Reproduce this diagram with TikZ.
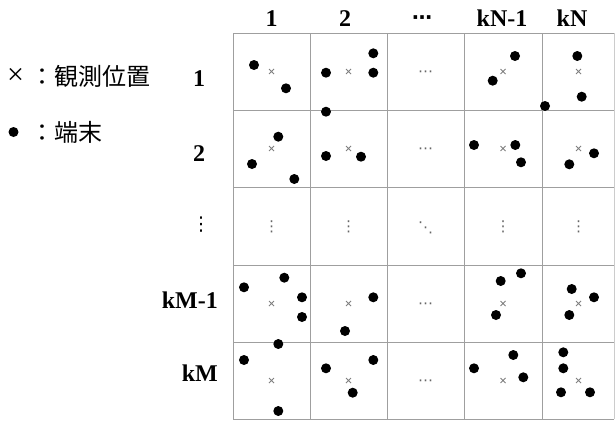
\documentclass[tikz,border=0pt]{standalone}
\usepackage{fontspec}
\setmainfont{Liberation Serif}
\newfontfamily\jpfont{Noto Sans CJK JP}
\newfontfamily\symfont{DejaVu Sans}
\usepackage{tikz}
\usetikzlibrary{positioning}

\begin{document}
\begin{tikzpicture}[
    x=1pt, y=-1pt,
    grid/.style={draw=gray!75, line width=1pt},
    term/.style={circle, fill=black, inner sep=0pt, minimum size=10pt},
    obs/.style={draw=gray, line width=0.9pt},
    hdr/.style={font=\fontsize{24}{24}\selectfont\bfseries, inner sep=0pt, anchor=base},
    legend/.style={font=\fontsize{24}{24}\selectfont\jpfont, inner sep=0pt, anchor=west},
    gap/.style={font=\fontsize{15}{15}\selectfont\symfont, text=gray!80!black, inner sep=0pt}
]
    \useasboundingbox (0,0) rectangle (616,423);

    % legend
    \node[inner sep=0pt, font=\fontsize{30}{30}\selectfont] (lgx) at (15.5,76) {×};
    \node[legend] (lgxt) at (30,76.5) {：観測位置};
    \node[term] (lgd) at (13.5,132) {};
    \node[legend] (lgdt) at (30,132.5) {：端末};

    % column and row headers
    \node[hdr] (c1) at (271.5,26) {1};
    \node[hdr] (c2) at (345,26) {2};
    \node[inner sep=0pt, font=\fontsize{20}{20}\selectfont\symfont\bfseries] (c3) at (422,20.5) {⋯};
    \node[hdr] (c4) at (502,26) {kN-1};
    \node[hdr] (c5) at (572,26) {kN};
    \node[hdr] (r1) at (199,86) {1};
    \node[hdr] (r2) at (199,161) {2};
    \node[inner sep=0pt, font=\fontsize{19}{19}\selectfont\symfont] (r3) at (201,225) {⋮};
    \node[hdr, anchor=base east] (r4) at (218,308) {kM-1};
    \node[hdr, anchor=base east] (r5) at (218,381.5) {kM};

    % grid
    \foreach \x in {233,310,387,464,542} \draw[grid] (\x,33) -- (\x,419);
    \draw[grid, draw=gray!40] (614,33) -- (614,419);
    \foreach \y in {33,110,187,265,342,419} \draw[grid] (233,\y) -- (614,\y);

    % observation positions
    \foreach \x in {271.5,348.5,503,578.5}
        \foreach \y in {71.5,148.5,303.5,380.5}
            \draw[obs] (\x-2.5,\y-2.5) -- (\x+2.5,\y+2.5) (\x-2.5,\y+2.5) -- (\x+2.5,\y-2.5);

    % omitted cells
    \foreach \y [count=\i] in {73.5,150.5,305.5,382.5}
        \node[gap] (h\i) at (425.5,\y) {⋯};
    \foreach \x [count=\i] in {271.5,348.5,503,578.5}
        \node[gap] (v\i) at (\x,226.5) {⋮};
    \node[gap] (dg) at (425.5,227.5) {⋱};

    % terminals
    \foreach \x/\y [count=\i] in {254/65, 286/88.3,
        326/72.7, 373.3/53.3, 373.3/72.7, 326/111.7,
        515/56, 492.7/80.7,
        577.3/56, 581.7/96.7, 545/106,
        278.3/136.7, 252/164, 294.3/179,
        326/156, 361/156.7,
        474/145, 515.3/145, 521/162.3,
        594/153.3, 569.3/164.3,
        244/287.3, 284.3/277.7, 302/297.3, 302/317,
        373.3/297.3, 345/331,
        521/273.3, 500.7/281, 496/315,
        571.7/289, 594/297.3, 569.3/315,
        278.3/344, 244/360, 278.3/411,
        326/368.3, 373.3/360, 352.7/392.7,
        474/368.3, 513.3/355, 523.3/377.3,
        563.3/352.3, 563.3/368.3, 561/392.3, 590/392.3}
        \node[term] (t\i) at (\x,\y) {};
\end{tikzpicture}
\end{document}
